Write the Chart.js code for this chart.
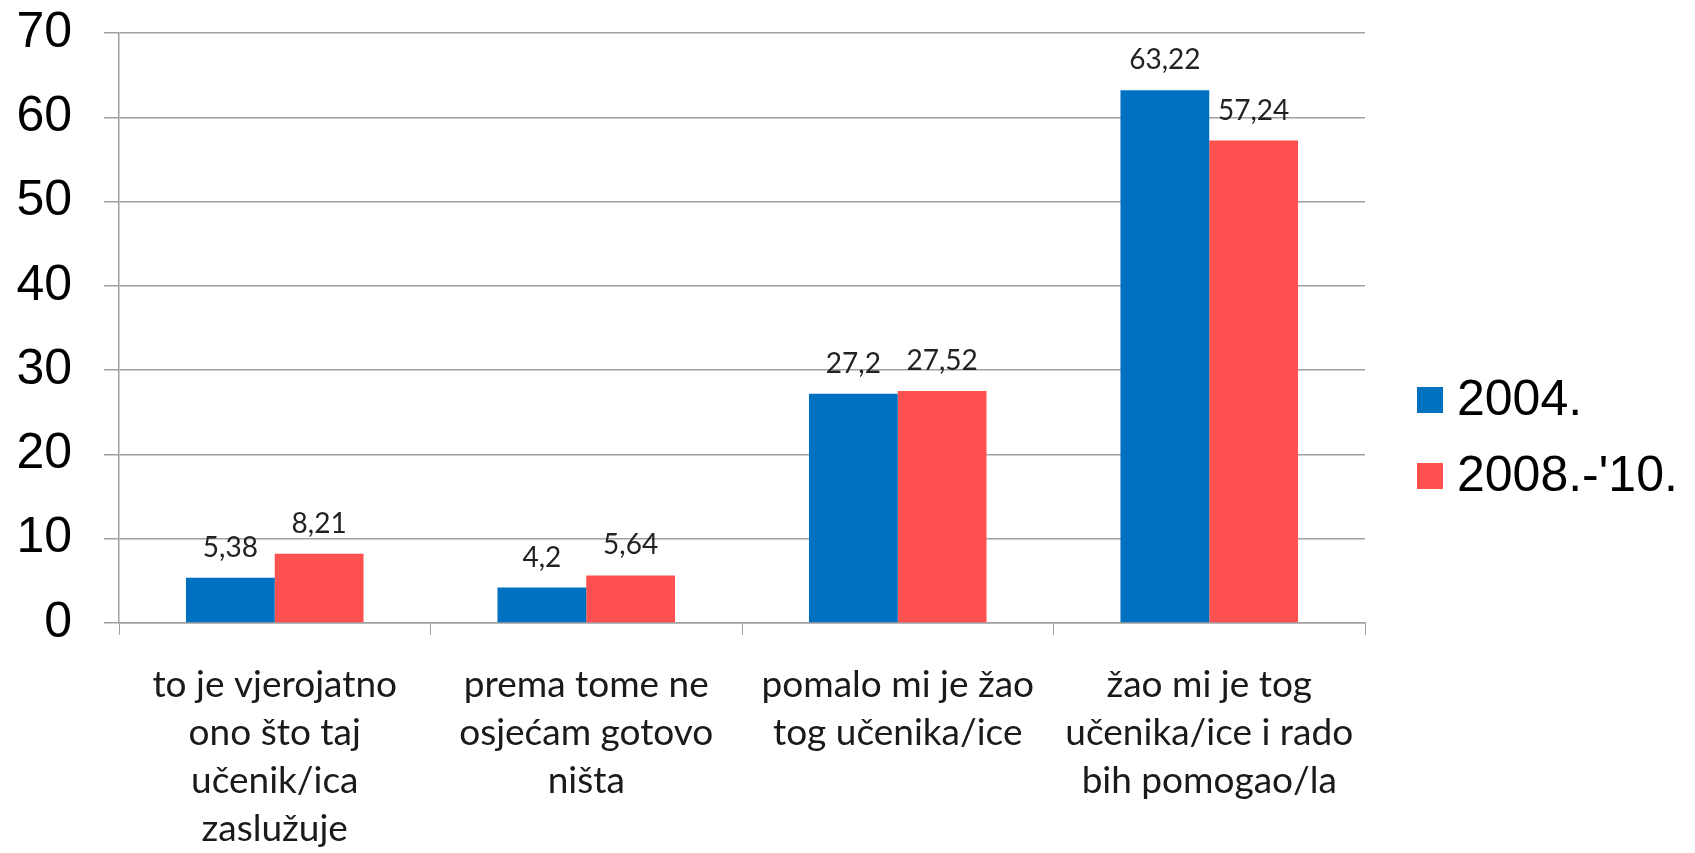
<!DOCTYPE html>
<html>
<head>
<meta charset="utf-8">
<title>Chart</title>
<script src="https://cdn.jsdelivr.net/npm/chart.js@4/dist/chart.umd.min.js"></script>
<style>
    html, body { margin: 0; padding: 0; background: #fff; }
    canvas { display: block; }
</style>
</head>
<body>
<canvas id="mainChart" width="1695" height="853"></canvas>
<script>
// Chart data
const categories = [
    ['to je vjerojatno', 'ono što taj', 'učenik/ica', 'zaslužuje'],
    ['prema tome ne', 'osjećam gotovo', 'ništa'],
    ['pomalo mi je žao', 'tog učenika/ice'],
    ['žao mi je tog', 'učenika/ice i rado', 'bih pomogao/la']
];
const seriesNames = ['2004.', "2008.-'10."];
const values2004 = [5.38, 4.2, 27.2, 63.22];
const values2008 = [8.21, 5.64, 27.52, 57.24];
const yTicks = [0, 10, 20, 30, 40, 50, 60, 70];

const gridColor = '#a0a0a0';

function formatValue(v) {
    return String(v).replace('.', ',');
}

// Value labels above the bars
const valueLabels = {
    id: 'valueLabels',
    afterDatasetsDraw(chart) {
        const ctx = chart.ctx;
        ctx.save();
        ctx.font = '28px Lato';
        ctx.fillStyle = '#222';
        ctx.textAlign = 'center';
        ctx.textBaseline = 'middle';
        chart.data.datasets.forEach((ds, i) => {
            chart.getDatasetMeta(i).data.forEach((bar, j) => {
                ctx.fillText(formatValue(ds.data[j]), bar.x, bar.y - 30);
            });
        });
        ctx.restore();
    }
};

// Legend on the right
const sideLegend = {
    id: 'sideLegend',
    afterDraw(chart) {
        const ctx = chart.ctx;
        ctx.save();
        ctx.font = '50px "Liberation Sans", Arial, sans-serif';
        ctx.textBaseline = 'middle';
        chart.data.datasets.forEach((ds, i) => {
            const cy = 400 + i * 76;
            ctx.fillStyle = ds.backgroundColor;
            ctx.fillRect(1417, cy - 13, 26, 26);
            ctx.fillStyle = '#000';
            ctx.fillText(ds.label, 1457, cy + 1);
        });
        ctx.restore();
    }
};

const ctx = document.getElementById('mainChart').getContext('2d');

new Chart(ctx, {
    type: 'bar',
    data: {
        labels: categories,
        datasets: [
            {
                label: seriesNames[0],
                data: values2004,
                backgroundColor: '#0070C0',
                borderWidth: 0
            },
            {
                label: seriesNames[1],
                data: values2008,
                backgroundColor: '#FF5050',
                borderWidth: 0
            }
        ]
    },
    options: {
        responsive: false,
        animation: false,
        datasets: {
            bar: {
                categoryPercentage: 0.57,
                barPercentage: 1
            }
        },
        layout: {
            padding: { left: 17, right: 330, top: 33, bottom: 0 }
        },
        plugins: {
            legend: { display: false },
            tooltip: { enabled: false }
        },
        scales: {
            x: {
                afterFit(scale) {
                    scale.height = 230;
                },
                grid: {
                    offset: true,
                    drawOnChartArea: false,
                    color: gridColor,
                    tickLength: 12
                },
                border: { color: gridColor, width: 1.5 },
                ticks: {
                    maxRotation: 0,
                    autoSkip: false,
                    padding: 26,
                    color: '#1a1a1a',
                    font: { family: 'Lato', size: 37, lineHeight: '48px' }
                }
            },
            y: {
                min: 0,
                max: 70,
                afterBuildTicks(scale) {
                    scale.ticks = yTicks.map(v => ({ value: v }));
                },
                afterFit(scale) {
                    scale.width = 102;
                    scale.paddingTop = 0;
                    scale.paddingBottom = 0;
                },
                grid: {
                    color: gridColor,
                    lineWidth: 1.5,
                    tickLength: 15
                },
                border: { color: gridColor, width: 1.5 },
                ticks: {
                    padding: 32,
                    color: '#000',
                    font: { family: '"Liberation Sans", Arial, sans-serif', size: 50, lineHeight: 1 }
                }
            }
        }
    },
    plugins: [valueLabels, sideLegend]
});
</script>
</body>
</html>
